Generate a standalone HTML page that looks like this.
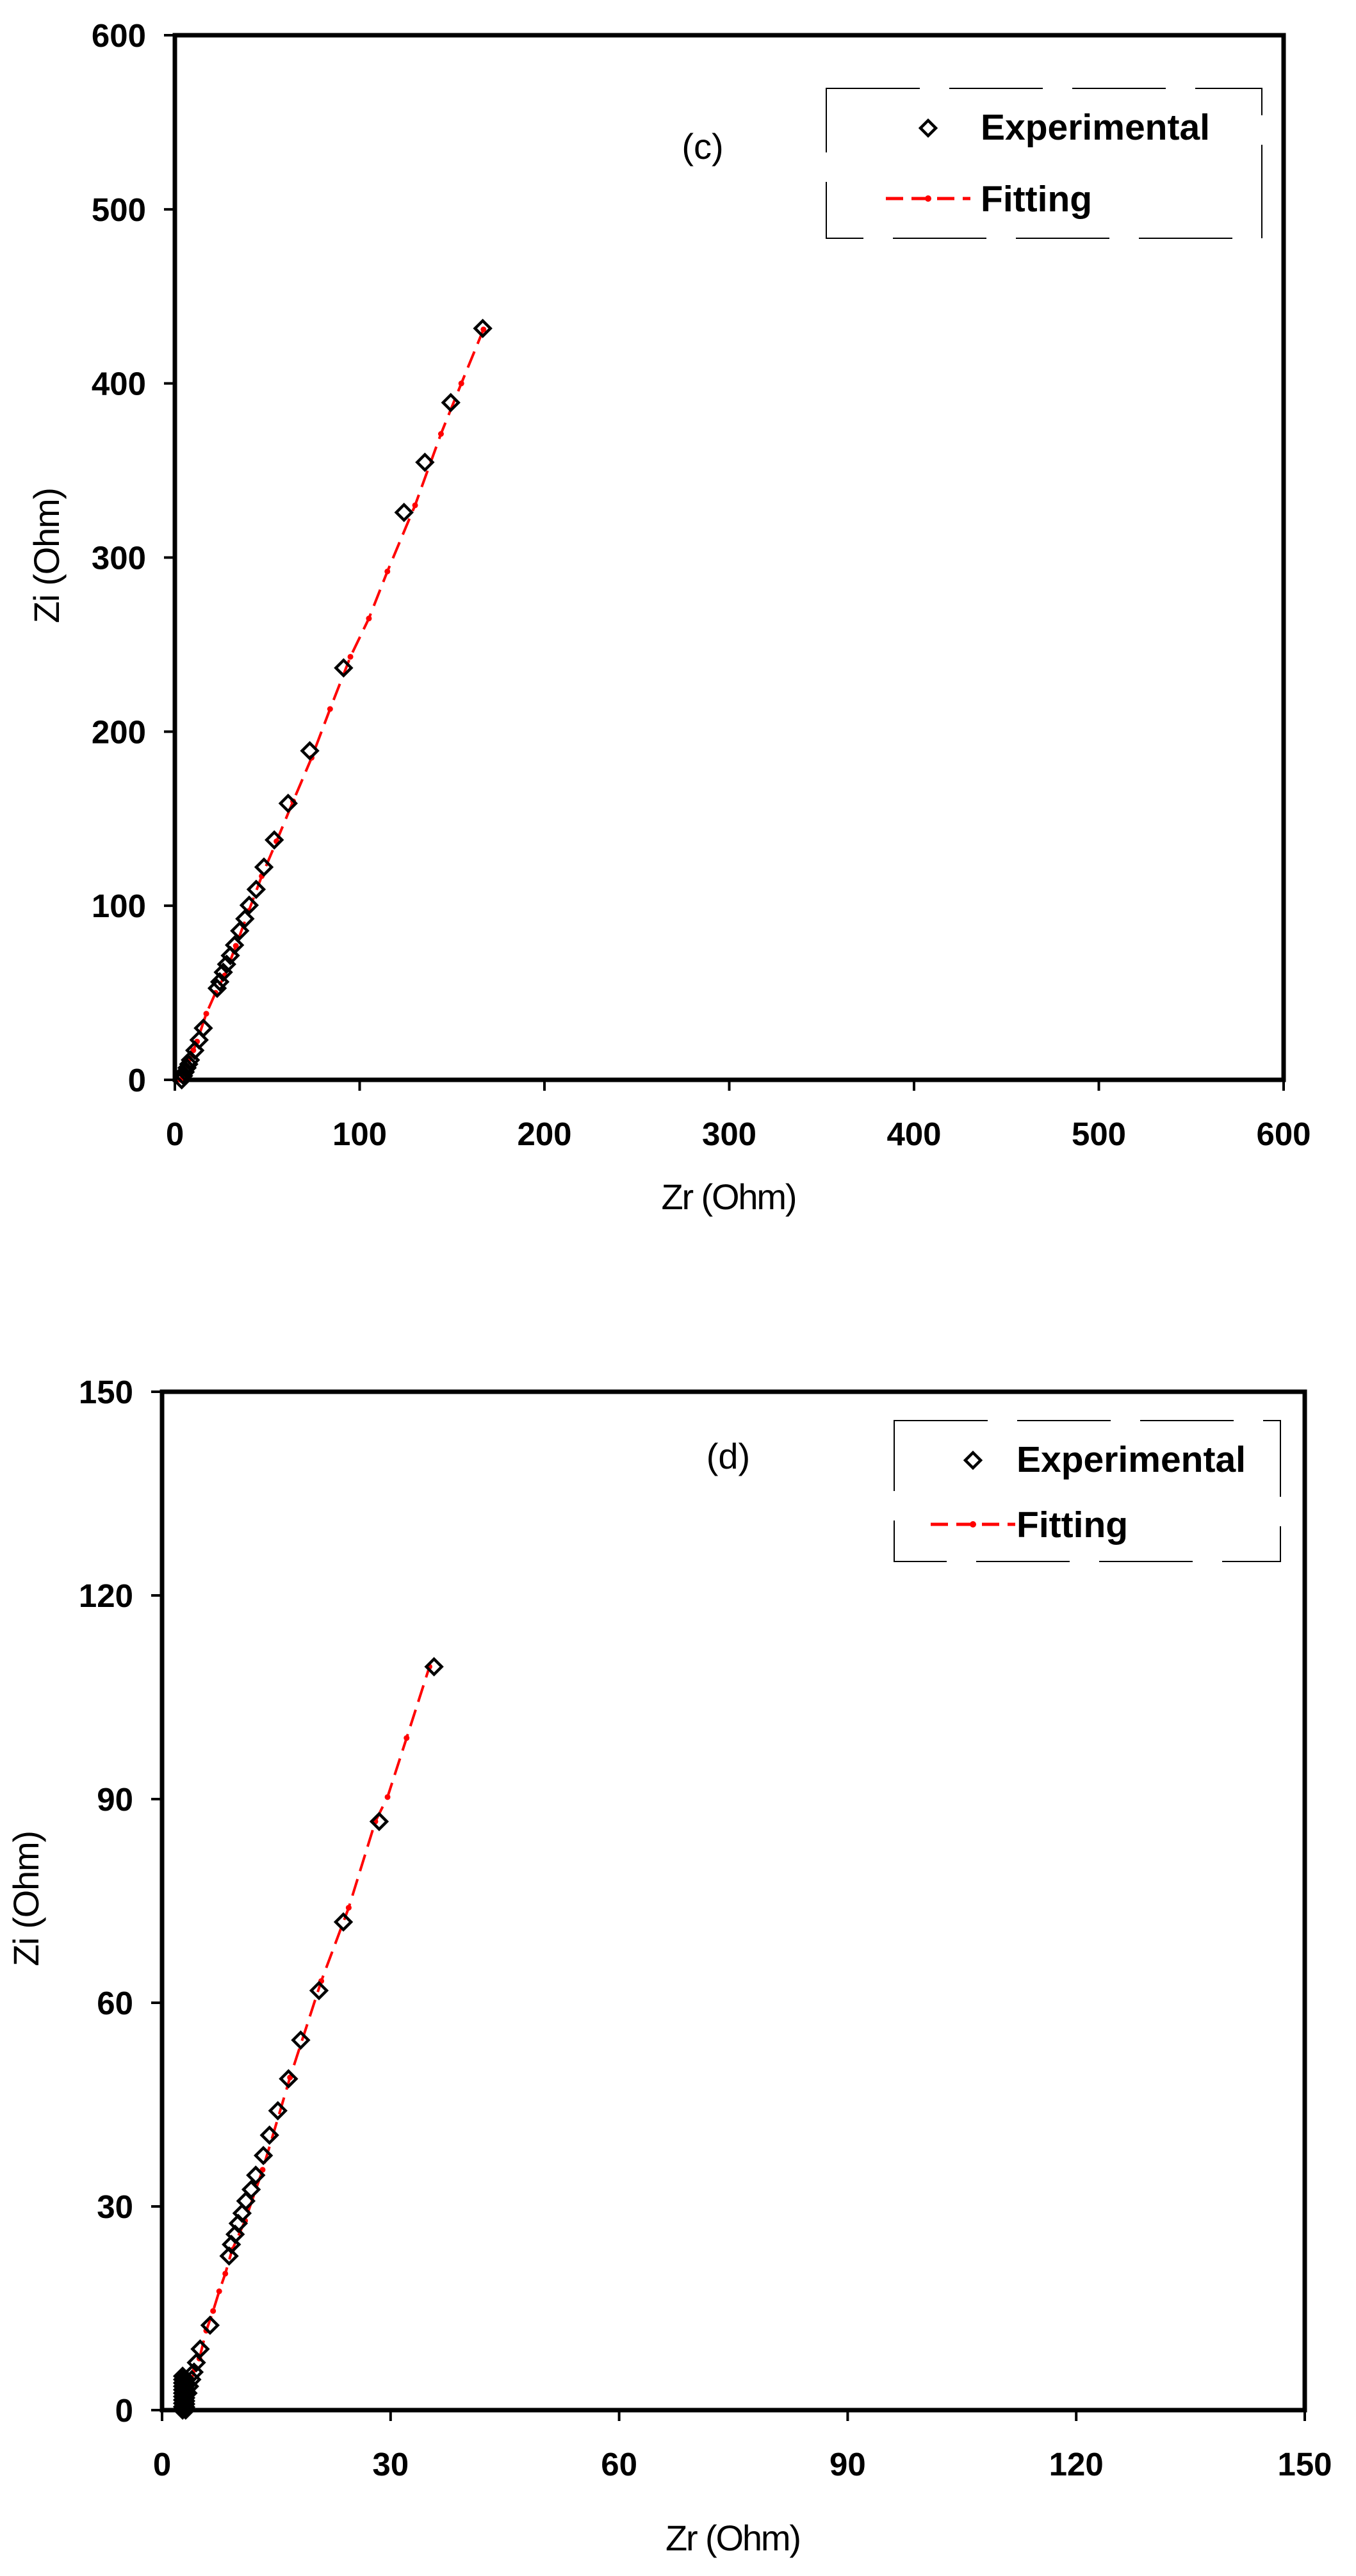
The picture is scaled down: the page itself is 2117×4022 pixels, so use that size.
<!DOCTYPE html>
<html><head><meta charset="utf-8"><style>
html,body{margin:0;padding:0;background:#fff;}
svg{display:block;}
text{font-family:"Liberation Sans",Arial,sans-serif;fill:#000;}
.tk{font-weight:bold;font-size:51px;}
.lg{font-weight:bold;font-size:57px;}
.ti{font-size:56px;}
</style></head><body>
<svg id="s" width="2117" height="4022" viewBox="0 0 2117 4022" xmlns="http://www.w3.org/2000/svg"></svg>
<script>
const s=document.getElementById('s');let h='';
function chart(o){
 const X=v=>o.l+v/o.max*(o.r-o.l), Y=v=>o.b-v/o.max*(o.b-o.t);
 // ticks
 for(let i=0;i<=6;i++){const v=i*o.step;if(v>o.max)break;
  const x=X(v),y=Y(v);
  h+=`<line x1="${x}" y1="${o.b}" x2="${x}" y2="${o.b+17}" stroke="#000" stroke-width="4"/>`;
  h+=`<line x1="${o.l-17}" y1="${y}" x2="${o.l}" y2="${y}" stroke="#000" stroke-width="4"/>`;
  h+=`<text class="tk" x="${x}" y="${o.b+102}" text-anchor="middle">${v}</text>`;
  h+=`<text class="tk" x="${o.l-45}" y="${y+18}" text-anchor="end">${v}</text>`;
 }
 h+=`<rect x="${o.l}" y="${o.t}" width="${o.r-o.l}" height="${o.b-o.t}" fill="none" stroke="#000" stroke-width="7"/>`;
 // fit
 let p=o.fit.map(a=>X(a[0]).toFixed(1)+','+Y(a[1]).toFixed(1)).join(' ');
 h+=`<polyline points="${p}" fill="none" stroke="#f00" stroke-width="4" stroke-dasharray="27 13"/>`;
 o.fit.forEach(a=>{h+=`<circle cx="${X(a[0])}" cy="${Y(a[1])}" r="4.5" fill="#f00"/>`;});
 o.exp.forEach(a=>{const x=X(a[0]),y=Y(a[1]);h+=`<path d="M${x-12},${y}L${x},${y-12}L${x+12},${y}L${x},${y+12}Z" fill="none" stroke="#000" stroke-width="4.5"/>`;});
 // legend
 const L=o.leg;
 h+=`<rect x="${L.x1}" y="${L.y1}" width="${L.x2-L.x1}" height="${L.y2-L.y1}" fill="none" stroke="#000" stroke-width="2" stroke-dasharray="146 46"/>`;
 h+=`<path d="M${L.dx-12},${L.ey}L${L.dx},${L.ey-12}L${L.dx+12},${L.ey}L${L.dx},${L.ey+12}Z" fill="none" stroke="#000" stroke-width="4.5"/>`;
 h+=`<text class="lg" x="${L.tx}" y="${L.ey+18}">Experimental</text>`;
 h+=`<line x1="${L.dx-66}" y1="${L.fy}" x2="${L.dx+66}" y2="${L.fy}" stroke="#f00" stroke-width="5" stroke-dasharray="27 13"/>`;
 h+=`<circle cx="${L.dx}" cy="${L.fy}" r="5" fill="#f00"/>`;
 h+=`<text class="lg" x="${L.tx}" y="${L.fy+20}">Fitting</text>`;
 h+=`<text class="ti" x="${o.lab.x}" y="${o.lab.y}" text-anchor="middle">${o.lab.t}</text>`;
 h+=`<text class="ti" x="${(o.l+o.r)/2}" y="${o.xt}" text-anchor="middle" textLength="212">Zr (Ohm)</text>`;
 h+=`<text class="ti" transform="translate(${o.yt[0]},${o.yt[1]}) rotate(-90)" x="0" y="20" text-anchor="middle" textLength="212">Zi (Ohm)</text>`;
}
chart({l:273,r:2004,t:55,b:1686,max:600,step:100,xt:1888,yt:[72,867],
 lab:{x:1097,y:248,t:'(c)'},
 leg:{x1:1290,y1:138,x2:1970,y2:372,dx:1449,ey:200,fy:310,tx:1531},
 exp:[[166.6,431.6],[149.3,389],[135.3,354.7],[124,325.9],[91.3,236.6],[73,189],[61.3,158.8],[53.8,137.8],[48.2,122.2],[44,109.4],[40.2,100.3],[37.9,92.5],[35.1,85.6],[32.3,77.4],[30,71.4],[28,66.4],[26.2,61.8],[24.3,56.3],[22.9,52.6],[15.4,29.7],[13.1,22.9],[10.8,16.9],[8.4,11.4],[7.5,9],[6.6,6.9],[5.6,4.5],[4.7,2.3],[3.7,0]],
 fit:[[3,0],[4,3],[5,5],[6.5,8],[8,12],[10,17],[12,22],[17,38],[22,50],[27,60],[33,77],[40,97],[47,117],[55,137],[64,160],[74,185],[84,213],[95,243],[105,265],[115,292],[130,330],[144,371],[155,400],[167,431]]
});
const dexp=[[35.7,109.5],[28.5,86.7],[23.8,71.9],[20.6,61.8],[18.2,54.5],[16.6,48.8],[15.2,44.1],[14.1,40.5],[13.3,37.5],[12.3,34.6],[11.7,32.5],[11,30.8],[10.5,29],[10,27.5],[9.6,25.9],[9.1,24.4],[8.8,22.7],[6.3,12.5],[5,9],[4.5,7],[4.2,5.6],[3.9,4.5],[3.6,3.5],[3.4,2.5]];
for(let i=0;i<=10;i++){dexp.push([2.7,i*0.5]);dexp.push([3.1,i*0.45]);}
chart({l:253,r:2037,t:2173,b:3763,max:150,step:30,xt:3982,yt:[40,2964],
 lab:{x:1137,y:2293,t:'(d)'},
 leg:{x1:1396,y1:2218,x2:1999,y2:2438,dx:1519,ey:2280,fy:2380,tx:1587},
 exp:dexp,
 fit:[[2.6,0.7],[3.2,2.5],[3.8,4.2],[4.3,6],[4.9,7.6],[5.8,11.7],[6.7,14.6],[7.5,17.5],[8.3,20.1],[9.2,23.6],[10.9,27.9],[13.2,35.4],[16.8,49],[20.9,63.2],[24.5,74],[28,86.7],[29.6,90.3],[32.1,99],[35.1,109.5]]
});
s.innerHTML=h;
</script>
</body></html>
